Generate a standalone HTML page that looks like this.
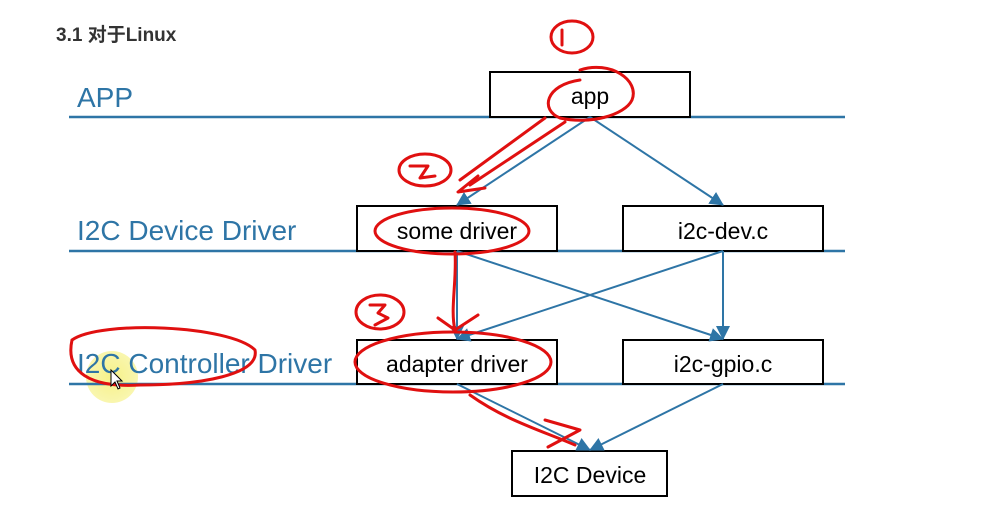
<!DOCTYPE html>
<html><head><meta charset="utf-8"><style>
html,body{margin:0;padding:0;background:#fff;}
body{width:992px;height:509px;overflow:hidden;position:relative;}
svg{position:absolute;left:0;top:0;}
</style></head><body>
<svg width="992" height="509" viewBox="0 0 992 509" xmlns="http://www.w3.org/2000/svg">
<defs>
<marker id="ah" markerWidth="14" markerHeight="14" refX="13" refY="7" orient="auto" markerUnits="userSpaceOnUse"><path d="M0,0 L14,7 L0,14 z" fill="#2e75a6"/></marker>
<radialGradient id="yg"><stop offset="0" stop-color="#f5f07a" stop-opacity="0.9"/><stop offset="1" stop-color="#f5f07a" stop-opacity="0.6"/></radialGradient>
</defs>
<text x="56" y="41" font-family="Liberation Sans, Noto Sans CJK SC, sans-serif" font-size="19" font-weight="bold" fill="#333">3.1 对于Linux</text>
<circle cx="112" cy="377" r="26" fill="url(#yg)"/>
<g stroke="#2e75a6" stroke-width="2.5">
<line x1="69" y1="117" x2="845" y2="117"/>
<line x1="69" y1="251" x2="845" y2="251"/>
<line x1="69" y1="384" x2="845" y2="384"/>
</g>
<g font-family="Liberation Sans, sans-serif" font-size="28" fill="#2e75a6">
<text x="77" y="107">APP</text>
<text x="77" y="240">I2C Device Driver</text>
<text x="77" y="373">I2C Controller Driver</text>
</g>
<g fill="#fff" stroke="#000" stroke-width="2">
<rect x="490" y="72" width="200" height="45"/>
<rect x="357" y="206" width="200" height="45"/>
<rect x="623" y="206" width="200" height="45"/>
<rect x="357" y="340" width="200" height="44"/>
<rect x="623" y="340" width="200" height="44"/>
<rect x="512" y="451" width="155" height="45"/>
</g>
<g font-family="Liberation Sans, sans-serif" font-size="23" fill="#000" text-anchor="middle">
<text x="590" y="104">app</text>
<text x="457" y="239">some driver</text>
<text x="723" y="239">i2c-dev.c</text>
<text x="457" y="372">adapter driver</text>
<text x="723" y="372">i2c-gpio.c</text>
<text x="590" y="483">I2C Device</text>
</g>
<g stroke="#2e75a6" stroke-width="2" marker-end="url(#ah)">
<line x1="590" y1="117" x2="457" y2="205"/>
<line x1="590" y1="117" x2="723" y2="205"/>
<line x1="457" y1="251" x2="457" y2="339"/>
<line x1="457" y1="251" x2="723" y2="339"/>
<line x1="723" y1="251" x2="723" y2="339"/>
<line x1="723" y1="251" x2="457" y2="339"/>
<line x1="457" y1="384" x2="590" y2="450"/>
<line x1="723" y1="384" x2="590" y2="450"/>
</g>
<g fill="none" stroke="#e01010" stroke-width="3" stroke-linecap="round" stroke-linejoin="round">
<ellipse cx="572" cy="37" rx="21" ry="16"/>
<line x1="562" y1="30" x2="562" y2="45"/>
<path d="M580,70 C610,60 640,80 632,100 C625,115 590,125 560,118 C540,110 545,85 580,80"/>
<path d="M565,122 L470,185 M545,118 L460,180 M478,176 L458,192 L485,188"/>
<ellipse cx="425" cy="170" rx="26" ry="16"/>
<path d="M410,166 L428,166 L420,178 L435,176"/>
<ellipse cx="452" cy="231" rx="77" ry="23"/>
<path d="M455,252 C457,280 450,310 455,330 M438,318 L455,330 L478,315"/>
<ellipse cx="380" cy="312" rx="24" ry="17"/>
<path d="M370,305 L385,305 L378,313 L388,318 L375,325"/>
<ellipse cx="453" cy="362" rx="98" ry="30"/>
<path d="M470,395 C505,420 540,430 575,445 M545,420 L580,430 L548,447"/>
<path d="M72,340 C100,320 230,325 255,350 C260,375 200,385 140,385 C90,388 65,372 72,340"/>
</g>
<path d="M111,370 L111,386 L115,382 L118,389 L120,388 L117,381 L122,381 z" fill="#fff" stroke="#000" stroke-width="1"/>
</svg>
</body></html>
